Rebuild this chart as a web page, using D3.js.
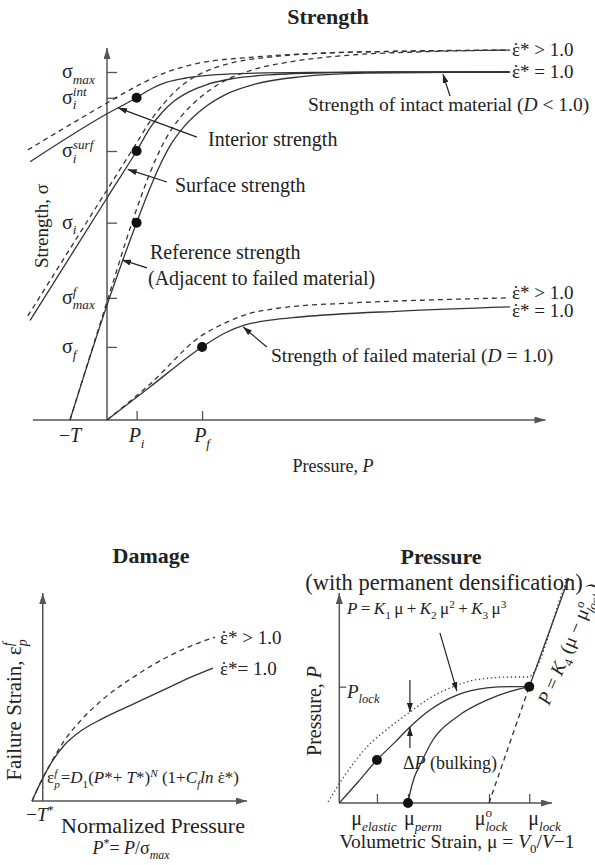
<!DOCTYPE html>
<html>
<head>
<meta charset="utf-8">
<script src="https://cdn.jsdelivr.net/npm/d3@7"></script>
<style>
body { margin: 0; background: #fff; }
text { font-family: "Liberation Serif", "Times New Roman", serif; fill: #222; }
</style>
</head>
<body>
<svg id="chart" width="595" height="865"></svg>
<script>
// ---------- Strength panel (P in units of T, sigma in units of sigma_max) ----------
var sigmaTickVals = [1.0, 0.926, 0.773, 0.567, 0.351, 0.21];
var sigmaTickLabels = [["max", ""], ["i", "int"], ["i", "surf"], ["i", ""], ["max", "f"], ["f", ""]];
var pressTickVals = [-1, 0.8, 2.57];
var pressTickLabels = [["", "T"], ["P", "i"], ["P", "f"]];

var interiorSolid = [[-2.08,0.742],[0,0.88],[0.8,0.926],[1.2,0.952],[1.6,0.970],[2.1,0.982],[2.8,0.991],[3.8,0.996],[5.5,0.999],[8,1.0],[10.89,1.0]];
var interiorDash = [[-2.14,0.776],[0,0.911],[0.76,0.957],[1.62,1.0],[2.51,1.026],[3.86,1.042],[6.03,1.055],[8.46,1.06],[10.89,1.063]];
var surfaceSolid = [[-2.08,0.286],[0,0.638],[0.8,0.773],[1.2,0.845],[1.5,0.885],[1.8,0.915],[2.2,0.942],[2.7,0.964],[3.4,0.981],[4.4,0.992],[6,0.998],[8,1.0],[10.89,1.0]];
var surfaceDash = [[-2.14,0.299],[0,0.661],[0.8,0.796],[1.2,0.864],[1.5,0.905],[1.8,0.94],[2.2,0.975],[2.7,1.003],[3.4,1.027],[4.4,1.043],[5.8,1.054],[8,1.06],[10.89,1.063]];
var referenceSolid = [[-1,0],[0,0.33],[0.8,0.567],[1.1,0.65],[1.4,0.725],[1.7,0.787],[2.1,0.845],[2.6,0.895],[3.2,0.935],[4.0,0.965],[5.2,0.986],[7,0.997],[10.89,1.0]];
var referenceDash = [[-1,0],[0,0.34],[0.7,0.575],[1.0,0.665],[1.3,0.745],[1.6,0.81],[2.0,0.872],[2.5,0.925],[3.1,0.97],[3.9,1.005],[5.0,1.03],[6.5,1.048],[8.5,1.058],[10.89,1.063]];
var failedSolid = [[0,0],[1.16,0.095],[2.57,0.21],[3.19,0.25],[3.73,0.273],[4.41,0.287],[5.22,0.296],[7.92,0.313],[10.89,0.325]];
var failedDash = [[0,0],[1.16,0.103],[2.51,0.239],[3.19,0.279],[3.73,0.302],[4.68,0.322],[6.57,0.336],[8.73,0.345],[10.89,0.351]];
var strengthDots = [[0.8,0.926],[0.8,0.773],[0.8,0.567],[2.57,0.21]];

// ---------- Damage panel (P* normalised, failure strain) ----------
var damageSolid = [[-0.1,0],[0,0.11],[0.1,0.2],[0.2,0.268],[0.35,0.335],[0.55,0.395],[0.85,0.468],[1.15,0.54],[1.4,0.6],[1.584,0.639]];
var damageDash = [[-0.1,0],[0,0.11],[0.1,0.205],[0.2,0.29],[0.35,0.385],[0.55,0.485],[0.85,0.598],[1.15,0.69],[1.4,0.75],[1.602,0.788]];

// ---------- Pressure panel (mu, P) ----------
var muTickVals = [0.177, 0.323, 0.704, 0.893];
var muTickLabels = [["elastic", ""], ["perm", ""], ["lock", "o"], ["lock", ""]];
var pLock = 0.554;
var loadingSolid = [[0,0],[0.088,0.1],[0.177,0.205],[0.262,0.29],[0.332,0.362],[0.426,0.443],[0.553,0.514],[0.694,0.548],[0.802,0.554],[0.893,0.554]];
var lockedSolid = [[0.893,0.554],[1.079,1.071]];
var unloadSolid = [[0.323,0],[0.333,0.05],[0.352,0.12],[0.379,0.18],[0.44,0.3],[0.553,0.41],[0.694,0.49],[0.8,0.53],[0.893,0.554]];
var lockDash = [[0.704,0],[0.893,0.554]];
var solidDotted = [[-0.053,0.005],[0.027,0.133],[0.13,0.267],[0.238,0.362],[0.332,0.433],[0.426,0.5],[0.521,0.548],[0.615,0.581],[0.709,0.595],[0.802,0.6],[0.887,0.6],[1.052,1.014],[1.075,1.076]];
var pressureDots = [[0.177,0.205],[0.323,0],[0.893,0.554]];

var svg = d3.select("#chart");
var defs = svg.append("defs");

function marker(id, len, wid, color) {
  defs.append("marker").attr("id", id)
    .attr("viewBox", "0 0 " + len + " " + wid)
    .attr("refX", len).attr("refY", wid / 2)
    .attr("markerWidth", len).attr("markerHeight", wid)
    .attr("markerUnits", "userSpaceOnUse").attr("orient", "auto")
    .append("path").attr("d", "M0,0L" + len + "," + (wid / 2) + "L0," + wid + "Z").attr("fill", color);
}
marker("axisArrow", 11, 7, "#555");
marker("noteArrow", 9, 6, "#222");

// text with italic / sub / sup / accent pieces
function rich(g, x, y, parts, size, anchor, rotate) {
  var t = g.append("text").attr("font-size", size).attr("text-anchor", anchor || "start");
  if (rotate) t.attr("transform", "translate(" + x + "," + y + ") rotate(" + rotate + ")");
  else t.attr("x", x).attr("y", y);
  var shift = 0, prevLen = 0, pending = 0;
  parts.forEach(function(p) {
    if (typeof p === "string") p = {t: p};
    var target = p.sub ? size * 0.28 : p.sup ? -size * 0.38 : 0;
    var s = t.append("tspan").text(p.t).attr("dy", target - shift);
    if (p.sub || p.sup) s.attr("font-size", size * 0.66);
    if (p.it) s.attr("font-style", "italic");
    var len = s.node().getComputedTextLength();
    if (p.accent) {
      s.attr("dx", -(prevLen + len) / 2);
      pending = (prevLen - len) / 2;
    } else {
      var dx = pending + (p.stack ? -prevLen : 0);
      if (dx) s.attr("dx", dx);
      pending = 0;
      prevLen = len;
    }
    shift = target;
  });
  return t;
}

function eps(rest) {
  return [{t: "\u03B5"}, {t: "\u02D9", accent: true}, {t: "*" + (rest || "")}];
}

function curve(g, x, y, pts, dash, kind) {
  g.append("path").datum(pts)
    .attr("d", d3.line().x(function(d) { return x(d[0]); }).y(function(d) { return y(d[1]); })
      .curve(kind || d3.curveMonotoneX))
    .attr("fill", "none").attr("stroke", "#333").attr("stroke-width", 1.3)
    .attr("stroke-dasharray", dash || null);
}

function arrow(g, x, y, a, b) {
  g.append("line").attr("x1", x(a[0])).attr("y1", y(a[1])).attr("x2", x(b[0])).attr("y2", y(b[1]))
    .attr("stroke", "#222").attr("stroke-width", 1.2).attr("marker-end", "url(#noteArrow)");
}

function axisLine(g, x1, y1, x2, y2) {
  g.append("line").attr("x1", x1).attr("y1", y1).attr("x2", x2).attr("y2", y2)
    .attr("stroke", "#555").attr("stroke-width", 1.5).attr("marker-end", "url(#axisArrow)");
}

function tickStyle(a) {
  a.select(".domain").remove();
  a.selectAll("line").attr("stroke", "#555").attr("stroke-width", 1.3);
}

function dots(g, x, y, pts) {
  g.selectAll(null).data(pts).join("circle")
    .attr("cx", function(d) { return x(d[0]); }).attr("cy", function(d) { return y(d[1]); })
    .attr("r", 5).attr("fill", "#111");
}

// ===================== Strength =====================
var xS = d3.scaleLinear().domain([-2, 12]).range([33, 551]);
var yS = d3.scaleLinear().domain([0, 1]).range([420, 72]);
var gS = svg.append("g");

gS.append("text").attr("x", 328).attr("y", 24).attr("text-anchor", "middle")
  .attr("font-size", 22).attr("font-weight", "bold").text("Strength");

gS.append("g").attr("transform", "translate(" + xS(0) + ",0)")
  .call(d3.axisLeft(yS).tickValues(sigmaTickVals).tickSize(-10).tickFormat(""))
  .call(tickStyle);
gS.append("g").attr("transform", "translate(0," + yS(0) + ")")
  .call(d3.axisBottom(xS).tickValues(pressTickVals.slice(1)).tickSize(-9).tickFormat(""))
  .call(tickStyle);
axisLine(gS, xS(-2), yS(0), xS(11.85), yS(0));
axisLine(gS, xS(0), yS(0), xS(0), yS(1.069));

sigmaTickVals.forEach(function(v, i) {
  var lab = sigmaTickLabels[i];
  var parts = ["\u03C3", {t: lab[0], sub: true, it: true}];
  if (lab[1]) parts.push({t: lab[1], sup: true, it: true, stack: true});
  rich(gS, 62, yS(v) + 6, parts, 20);
});
pressTickVals.forEach(function(v, i) {
  var lab = pressTickLabels[i];
  var parts = i === 0 ? ["\u2212", {t: "T", it: true}] : [{t: lab[0], it: true}, {t: lab[1], sub: true, it: true}];
  rich(gS, xS(v), yS(0) + 22, parts, 20, "middle");
});

rich(gS, 333, 472, ["Pressure, ", {t: "P", it: true}], 18, "middle");
rich(gS, 48, 226, ["Strength, \u03C3"], 19, "middle", -90);

curve(gS, xS, yS, interiorDash, "5,4");
curve(gS, xS, yS, interiorSolid);
curve(gS, xS, yS, surfaceDash, "5,4");
curve(gS, xS, yS, surfaceSolid);
curve(gS, xS, yS, referenceDash, "5,4");
curve(gS, xS, yS, referenceSolid);
curve(gS, xS, yS, failedDash, "5,4");
curve(gS, xS, yS, failedSolid);
dots(gS, xS, yS, strengthDots);

rich(gS, 512, 56, eps(" > 1.0"), 19);
rich(gS, 512, 78, eps(" = 1.0"), 19);
rich(gS, 512, 299, eps(" > 1.0"), 19);
rich(gS, 512, 317, eps(" = 1.0"), 19);
rich(gS, 308, 111, ["Strength of intact material (", {t: "D", it: true}, " < 1.0)"], 19.5);
rich(gS, 208, 146, ["Interior strength"], 20);
rich(gS, 175, 192, ["Surface strength"], 20);
rich(gS, 150, 259, ["Reference strength"], 20);
rich(gS, 148, 285, ["(Adjacent to failed material)"], 20);
rich(gS, 271, 362, ["Strength of failed material (", {t: "D", it: true}, " = 1.0)"], 19.5);

arrow(gS, xS, yS, [9.27, 0.931], [9.08, 0.994]);
arrow(gS, xS, yS, [2.43, 0.813], [0.30, 0.897]);
arrow(gS, xS, yS, [1.62, 0.684], [0.56, 0.72]);
arrow(gS, xS, yS, [1.08, 0.437], [0.405, 0.46]);
arrow(gS, xS, yS, [4.32, 0.21], [3.68, 0.267]);

// ===================== Damage =====================
var xD = d3.scaleLinear().domain([-0.1, 1.9]).range([32, 247]);
var yD = d3.scaleLinear().domain([0, 1]).range([801, 593]);
var gD = svg.append("g");

gD.append("text").attr("x", 151).attr("y", 563).attr("text-anchor", "middle")
  .attr("font-size", 22).attr("font-weight", "bold").text("Damage");
axisLine(gD, xD(-0.1), yD(0), xD(1.9), yD(0));
axisLine(gD, xD(0), yD(0), xD(0), yD(1));
curve(gD, xD, yD, damageDash, "5,4");
curve(gD, xD, yD, damageSolid);

rich(gD, 220, 644, eps(" > 1.0"), 19);
rich(gD, 220, 675, eps("= 1.0"), 19);
rich(gD, 47, 783, [{t: "\u03B5"}, {t: "p", sub: true, it: true}, {t: "f", sup: true, it: true, stack: true},
  "\u2009=", {t: "D", it: true}, {t: "1", sub: true}, "(", {t: "P", it: true}, "*+ ", {t: "T", it: true}, "*)",
  {t: "N", sup: true, it: true}, " (1+", {t: "C", it: true}, {t: "f", sub: true, it: true}, {t: "ln", it: true}, " "]
  .concat(eps(")")), 17);
rich(gD, 40, 821, ["\u2212", {t: "T", it: true}, {t: "*", sup: true}], 19, "middle");
rich(gD, 153, 833, ["Normalized Pressure"], 22, "middle");
rich(gD, 131, 854, [{t: "P", it: true}, {t: "*", sup: true}, "= ", {t: "P", it: true}, "/\u03C3", {t: "max", sub: true, it: true}], 18, "middle");
rich(gD, 21, 710, ["Failure Strain, \u03B5", {t: "p", sub: true, it: true}, {t: "f", sup: true, it: true, stack: true}], 21, "middle", -90);

// ===================== Pressure =====================
var xM = d3.scaleLinear().domain([0, 1]).range([339.3, 552]);
var yM = d3.scaleLinear().domain([0, 1]).range([803, 593]);
var gP = svg.append("g");

gP.append("text").attr("x", 441).attr("y", 564).attr("text-anchor", "middle")
  .attr("font-size", 22).attr("font-weight", "bold").text("Pressure");
gP.append("text").attr("x", 444).attr("y", 590).attr("text-anchor", "middle")
  .attr("font-size", 22.5).text("(with permanent densification)");

gP.append("g").attr("transform", "translate(0," + yM(0) + ")")
  .call(d3.axisBottom(xM).tickValues(muTickVals).tickSize(-9).tickFormat(""))
  .call(tickStyle);
gP.append("g").attr("transform", "translate(" + xM(0) + ",0)")
  .call(d3.axisLeft(yM).tickValues([pLock]).tickSize(-7).tickFormat(""))
  .call(tickStyle);
axisLine(gP, xM(0), yM(0), xM(1), yM(0));
axisLine(gP, xM(0), yM(0), xM(0), yM(1));

gP.append("path").datum(solidDotted)
  .attr("d", d3.line().x(function(d) { return xM(d[0]); }).y(function(d) { return yM(d[1]); }).curve(d3.curveMonotoneX))
  .attr("fill", "none").attr("stroke", "#444").attr("stroke-width", 1.3).attr("stroke-dasharray", "1.4,2.6");
curve(gP, xM, yM, lockDash, "5,4", d3.curveLinear);
curve(gP, xM, yM, loadingSolid);
curve(gP, xM, yM, lockedSolid, null, d3.curveLinear);
curve(gP, xM, yM, unloadSolid);
dots(gP, xM, yM, pressureDots);

var muLabelShift = [-3, -4, 2, -1];
var muLabelAnchor = ["middle", "start", "middle", "start"];
muTickVals.forEach(function(v, i) {
  var lab = muTickLabels[i];
  var parts = ["\u03BC"];
  if (lab[1]) parts.push({t: lab[1], sup: true});
  parts.push({t: lab[0], sub: true, it: true, stack: !!lab[1]});
  rich(gP, xM(v) + muLabelShift[i], 825, parts, 20, muLabelAnchor[i]);
});
rich(gP, 347, yM(pLock) + 11, [{t: "P", it: true}, {t: "lock", sub: true, it: true}], 19);
rich(gP, 347, 614, [{t: "P", it: true}, "\u2009=\u2009", {t: "K", it: true}, {t: "1", sub: true}, "\u2009\u03BC\u2009+\u2009",
  {t: "K", it: true}, {t: "2", sub: true}, "\u2009\u03BC", {t: "2", sup: true}, "\u2009+\u2009",
  {t: "K", it: true}, {t: "3", sub: true}, "\u2009\u03BC", {t: "3", sup: true}], 17);
rich(gP, 549, 706, [{t: "P", it: true}, " = ", {t: "K", it: true}, {t: "4", sub: true}, " (\u03BC \u2212 \u03BC",
  {t: "o", sup: true}, {t: "lock", sub: true, it: true, stack: true}, ")"], 19, "start", -67);
rich(gP, 403, 769, ["\u0394", {t: "P", it: true}, " (bulking)"], 18);
rich(gP, 457, 848, ["Volumetric Strain, \u03BC = ", {t: "V", it: true}, {t: "0", sub: true}, "/", {t: "V", it: true}, "\u22121"], 19.5, "middle");
rich(gP, 321, 711, ["Pressure, ", {t: "P", it: true}], 20, "middle", -90);

arrow(gP, xM, yM, [0.473, 0.81], [0.553, 0.533]);
arrow(gP, xM, yM, [0.332, 0.586], [0.332, 0.433]);
arrow(gP, xM, yM, [0.332, 0.262], [0.332, 0.362]);
</script>
</body>
</html>
